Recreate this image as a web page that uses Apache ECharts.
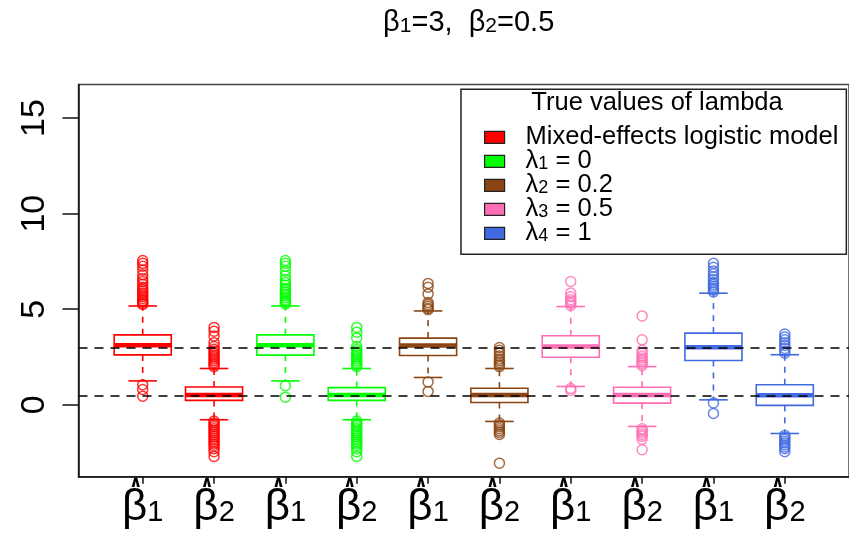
<!DOCTYPE html>
<html><head><meta charset="utf-8">
<script src="https://cdn.jsdelivr.net/npm/echarts@6/dist/echarts.min.js"></script>
<style>html,body{margin:0;padding:0;background:#fff}#c{width:849px;height:539px}</style>
</head><body><div id="c"></div>
<script>
// ---- data ----
const positions = [1, 2, 3, 4, 5, 6, 7, 8, 9, 10];
const boxParams = ['1', '2', '1', '2', '1', '2', '1', '2', '1', '2']; // beta-hat subscripts
const boxGroup = [0, 0, 1, 1, 2, 2, 3, 3, 4, 4];
const groupNames = ['Mixed-effects logistic model', 'λ1 = 0', 'λ2 = 0.2', 'λ3 = 0.5', 'λ4 = 1'];
// [lower whisker, Q1, median, Q3, upper whisker]
const boxStats = [
  [1.25, 2.61, 3.12, 3.66, 5.17],
  [-0.78, 0.23, 0.52, 0.93, 1.90],
  [1.25, 2.60, 3.12, 3.66, 5.17],
  [-0.78, 0.23, 0.52, 0.90, 1.90],
  [1.43, 2.58, 3.10, 3.49, 4.91],
  [-0.87, 0.12, 0.52, 0.87, 1.90],
  [0.96, 2.49, 3.05, 3.61, 5.14],
  [-1.13, 0.09, 0.52, 0.92, 2.00],
  [0.26, 2.32, 3.01, 3.75, 5.84],
  [-1.50, -0.03, 0.50, 1.05, 2.62]
];
const outliers = [
  [7.55, 7.4, 7.25, 7.05, 6.8, 6.6, 6.45, 6.3, 6.15, 6.05, 5.95, 5.85, 5.75, 5.65, 5.55, 5.45, 5.38, 5.3, 5.25, 1.05, 0.8, 0.45],
  [4.05, 3.85, 3.6, 3.25, 3.05, 2.9, 2.8, 2.7, 2.6, 2.5, 2.4, 2.3, 2.2, 2.1, 2.0, -0.85, -0.95, -1.05, -1.15, -1.25, -1.35, -1.45, -1.55, -1.65, -1.75, -1.85, -1.95, -2.05, -2.15, -2.3, -2.45, -2.7],
  [7.55, 7.4, 7.25, 7.0, 6.75, 6.55, 6.4, 6.25, 6.1, 6.0, 5.9, 5.8, 5.7, 5.6, 5.5, 5.42, 5.35, 5.28, 1.0, 0.4],
  [4.05, 3.8, 3.5, 3.05, 2.9, 2.8, 2.7, 2.6, 2.5, 2.4, 2.3, 2.2, 2.1, 2.0, -0.85, -0.95, -1.05, -1.15, -1.25, -1.35, -1.45, -1.55, -1.65, -1.75, -1.85, -1.95, -2.05, -2.15, -2.3, -2.45, -2.7],
  [6.35, 6.15, 5.8, 5.35, 5.25, 5.15, 5.05, 4.98, 1.2, 0.7],
  [3.0, 2.85, 2.7, 2.55, 2.4, 2.3, 2.2, 2.1, 2.0, -0.95, -1.05, -1.15, -1.25, -1.35, -1.45, -1.55, -3.05],
  [6.45, 5.85, 5.65, 5.5, 5.4, 5.3, 5.2, 0.85, 0.75],
  [4.65, 3.4, 2.85, 2.7, 2.55, 2.45, 2.35, 2.25, 2.15, 2.05, -1.25, -1.35, -1.45, -1.55, -1.65, -1.8, -2.35],
  [7.4, 7.2, 7.0, 6.85, 6.7, 6.55, 6.4, 6.3, 6.2, 6.1, 6.0, 5.9, 0.1, -0.45],
  [3.7, 3.55, 3.4, 3.25, 3.1, 2.95, 2.8, 2.7, -1.6, -1.7, -1.8, -1.9, -2.0, -2.1, -2.2, -2.3, -2.45]
];
const trueValues = [3, 0.5];
const yTicks = [0, 5, 10, 15];
const yRange = [-3.76, 16.76];
const xRange = [0.1, 10.9];

// ---- styles ----
const groupColors = ['#FF0000', '#00FF00', '#8B4513', '#FF6EB4', '#4169E1'];
const FONT = '"Liberation Sans", Arial, Helvetica, sans-serif';

const chart = echarts.init(document.getElementById('c'), null, {renderer: 'canvas'});

function renderBox(params, api) {
  const x = api.value(0);
  const lo = api.coord([x, api.value(1)]);
  const q1 = api.coord([x, api.value(2)]);
  const md = api.coord([x, api.value(3)]);
  const q3 = api.coord([x, api.value(4)]);
  const hi = api.coord([x, api.value(5)]);
  const w = api.size([0.8, 0])[0];
  const cap = w / 4;
  const cx = q1[0];
  const color = api.visual('color');
  const lw = 1.6;
  return {
    type: 'group',
    children: [
      {type: 'line', shape: {x1: cx, y1: q3[1], x2: cx, y2: hi[1]}, style: {stroke: color, lineWidth: lw, lineDash: [6, 6]}},
      {type: 'line', shape: {x1: cx, y1: q1[1], x2: cx, y2: lo[1]}, style: {stroke: color, lineWidth: lw, lineDash: [6, 6]}},
      {type: 'line', shape: {x1: cx - cap, y1: hi[1], x2: cx + cap, y2: hi[1]}, style: {stroke: color, lineWidth: lw}},
      {type: 'line', shape: {x1: cx - cap, y1: lo[1], x2: cx + cap, y2: lo[1]}, style: {stroke: color, lineWidth: lw}},
      {type: 'rect', shape: {x: cx - w / 2, y: q3[1], width: w, height: q1[1] - q3[1]}, style: {fill: 'rgba(255,255,255,0)', stroke: color, lineWidth: lw}},
      {type: 'line', shape: {x1: cx - w / 2, y1: md[1], x2: cx + w / 2, y2: md[1]}, style: {stroke: color, lineWidth: 4.5}}
    ]
  };
}

const series = [];
groupNames.forEach((name, g) => {
  const boxData = [];
  const outData = [];
  positions.forEach((p, i) => {
    if (boxGroup[i] !== g) return;
    boxData.push([p].concat(boxStats[i]));
    outliers[i].forEach(v => outData.push([p, v]));
  });
  series.push({
    type: 'custom', name: name, renderItem: renderBox, data: boxData,
    itemStyle: {color: groupColors[g]}, z: 3, silent: true
  });
  series.push({
    type: 'scatter', name: name, data: outData, symbol: 'circle', symbolSize: 10,
    itemStyle: {color: 'rgba(255,255,255,0)', borderColor: groupColors[g], borderWidth: 1.5},
    z: 2, silent: true
  });
});
series.push({
  type: 'scatter', data: [], z: 10, silent: true,
  markLine: {
    silent: true, symbol: ['none', 'none'], label: {show: false},
    lineStyle: {color: '#000', type: [9, 7], width: 1.6},
    data: trueValues.map(v => ({yAxis: v}))
  }
});

const subRich = {
  t: {fontSize: 25.5, fontFamily: FONT, color: '#000', lineHeight: 23},
  s: {fontSize: 18, fontFamily: FONT, color: '#000', lineHeight: 8, verticalAlign: 'bottom'},
  g: {width: 16, fontSize: 10, lineHeight: 10}
};

chart.setOption({
  animation: false,
  backgroundColor: '#fff',
  grid: {left: 78.5, top: 84.4, width: 780.5, height: 392.3, show: true, borderColor: '#444', borderWidth: 1.5, backgroundColor: 'transparent'},
  xAxis: {
    type: 'value', min: xRange[0], max: xRange[1],
    axisLine: {show: true, onZero: false, lineStyle: {color: '#111', width: 1.5}},
    splitLine: {show: false},
    axisTick: {show: true, customValues: positions, length: 7, lineStyle: {color: '#111', width: 1.5}},
    axisLabel: {
      customValues: positions, margin: 1, interval: 0,
      formatter: function (v) {
        const i = positions.indexOf(Math.round(v));
        return '{h|∧}\n{b|β}{s|' + boxParams[i] + '}';
      },
      rich: {
        h: {fontSize: 16, fontFamily: '"DejaVu Sans", sans-serif', fontWeight: 'bold', color: '#000', lineHeight: 10, padding: [0, 14, 0, 0]},
        b: {fontSize: 44, fontFamily: FONT, color: '#000', lineHeight: 40},
        s: {fontSize: 29, fontFamily: FONT, color: '#000', lineHeight: 8, verticalAlign: 'bottom'}
      }
    }
  },
  yAxis: {
    type: 'value', min: yRange[0], max: yRange[1],
    axisLine: {show: true, lineStyle: {color: '#111', width: 1.5}},
    splitLine: {show: false},
    axisTick: {show: true, customValues: yTicks, length: 16, lineStyle: {color: '#111', width: 1.5}},
    axisLabel: {customValues: yTicks, rotate: 90, margin: 27, fontSize: 34, fontFamily: FONT, color: '#000'}
  },
  legend: {
    data: groupNames, orient: 'vertical', left: 461, top: 89.3,
    padding: [35, 8, 8, 23], itemGap: -2.0, itemWidth: 20, itemHeight: 12,
    icon: 'rect', itemStyle: {borderColor: '#222', borderWidth: 1.2},
    backgroundColor: '#fff', borderColor: '#222', borderWidth: 1.5, borderRadius: 0,
    selectedMode: false,
    textStyle: {fontSize: 25.5, lineHeight: 23, fontFamily: FONT, color: '#000', rich: subRich},
    formatter: function (name) {
      const m = name.match(/^λ(\d) (.*)$/);
      if (m) return '{g| }{t|λ}{s|' + m[1] + '}{t| ' + m[2] + '}';
      return '{g| }{t|' + name + '}';
    }
  },
  graphic: [
    {type: 'text', x: 468.7, y: 23, z: 100,
      style: {text: '{t|β}{s|1}{t|=3,  β}{s|2}{t|=0.5}', align: 'center', verticalAlign: 'middle',
        rich: {t: {fontSize: 29, fontFamily: FONT, fill: '#000', lineHeight: 28},
               s: {fontSize: 21, fontFamily: FONT, fill: '#000', lineHeight: 10, verticalAlign: 'bottom'}}}},
    {type: 'text', x: 657, y: 103, z: 100,
      style: {text: 'True values of lambda', align: 'center', verticalAlign: 'middle', fontSize: 25.5, fontFamily: FONT, fill: '#000'}}
  ],
  series: series
});
</script>
</body></html>
